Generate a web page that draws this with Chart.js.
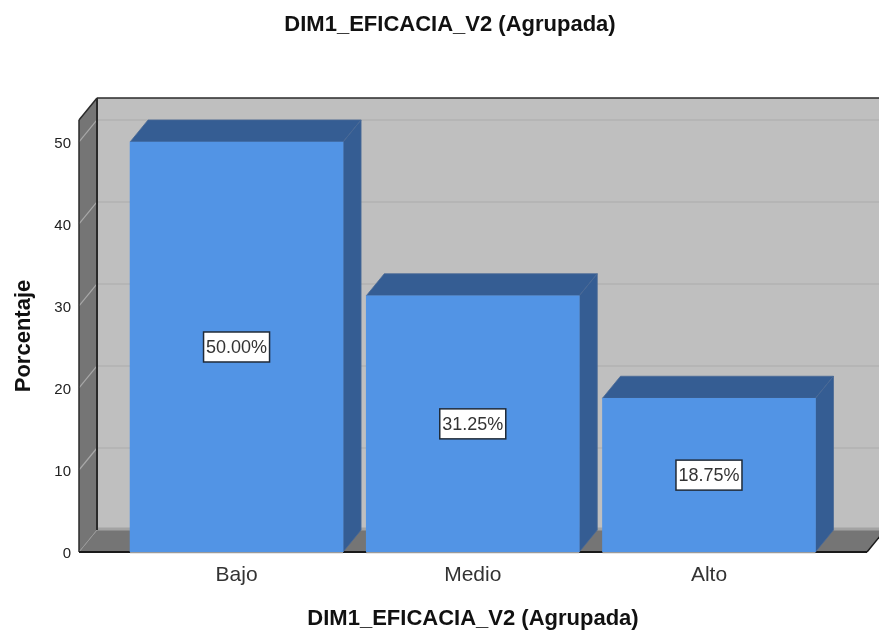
<!DOCTYPE html>
<html>
<head>
<meta charset="utf-8">
<style>
html,body{margin:0;padding:0;background:#fff;overflow:hidden}
canvas{display:block}
</style>
<script src="https://cdn.jsdelivr.net/npm/chart.js@4"></script>
</head>
<body>
<canvas id="c" width="879" height="632" style="width:879px;height:632px"></canvas>
<script>
const categories = ["Bajo", "Medio", "Alto"];
const percentages = [50, 31.25, 18.75];
const yTicks = [0, 10, 20, 30, 40, 50];
const titleText = "DIM1_EFICACIA_V2 (Agrupada)";
const yTitleText = "Porcentaje";

const FONT = '"Liberation Sans", Arial, sans-serif';
const DX = 18, DY = 22;

function poly(ctx, pts, fill, stroke, lw) {
  ctx.beginPath();
  pts.forEach((p, i) => i ? ctx.lineTo(p[0], p[1]) : ctx.moveTo(p[0], p[1]));
  ctx.closePath();
  if (fill) { ctx.fillStyle = fill; ctx.fill(); }
  if (stroke) { ctx.strokeStyle = stroke; ctx.lineWidth = lw || 1; ctx.stroke(); }
}
function line(ctx, x1, y1, x2, y2, color, lw) {
  ctx.beginPath(); ctx.moveTo(x1, y1); ctx.lineTo(x2, y2);
  ctx.strokeStyle = color; ctx.lineWidth = lw || 1; ctx.stroke();
}

const box3d = {
  id: "box3d",
  beforeDatasetsDraw(chart) {
    const { ctx, chartArea: a, scales: { y } } = chart;
    const L = a.left, R = a.right, T = a.top, B = a.bottom;
    ctx.save();
    // back wall
    poly(ctx, [[L + DX, T - DY], [R + DX, T - DY], [R + DX, B - DY], [L + DX, B - DY]], "#bfbfbf");
    // side wall
    poly(ctx, [[L, T], [L + DX, T - DY], [L + DX, B - DY], [L, B]], "#757575");
    // floor
    poly(ctx, [[L, B], [L + DX, B - DY], [R + DX, B - DY], [R, B]], "#757575");
    line(ctx, L + DX, B - DY - 1, R + DX, B - DY - 1, "#a3a3a3", 3);
    // grid lines
    yTicks.slice(1).forEach(v => {
      const py = y.getPixelForValue(v);
      line(ctx, L, py, L + DX, py - DY, "#a8a8a8", 1.2);
      line(ctx, L + DX, py - DY, R + DX, py - DY, "#b2b2b2", 1.5);
    });
    // frame edges
    line(ctx, L + DX, T - DY, R + DX, T - DY, "#2a2a2a", 1.5);
    line(ctx, L, T, L + DX, T - DY, "#2a2a2a", 1.5);
    line(ctx, L, T, L, B, "#2a2a2a", 1.5);
    line(ctx, L + DX, T - DY, L + DX, B - DY, "#2a2a2a", 2);
    line(ctx, L, B, L + DX, B - DY, "#999999", 1);
    line(ctx, L, B, R, B, "#1a1a1a", 2);
    line(ctx, R, B, R + DX, B - DY, "#1a1a1a", 1.5);
    // bar faces
    chart.getDatasetMeta(0).data.forEach(el => {
      const l = el.x - el.width / 2, r = el.x + el.width / 2, t = el.y, b = el.base;
      poly(ctx, [[l, t], [l + DX, t - DY], [r + DX, t - DY], [r, t]], "#355d93", "#4a6a96", 0.8);
      poly(ctx, [[r, t], [r + DX, t - DY], [r + DX, b - DY], [r, b]], "#355d93", "#4a6a96", 0.8);
      line(ctx, l, b + 0.5, r, b + 0.5, "#9a9a9a", 1.5);
    });
    ctx.restore();
  },
  afterDatasetsDraw(chart) {
    const { ctx } = chart;
    ctx.save();
    ctx.font = "18px " + FONT;
    ctx.textAlign = "center";
    ctx.textBaseline = "middle";
    chart.getDatasetMeta(0).data.forEach((el, i) => {
      const cy = (el.y + el.base) / 2;
      const w = 66, h = 30;
      ctx.fillStyle = "#ffffff";
      ctx.fillRect(el.x - w / 2, cy - h / 2, w, h);
      ctx.strokeStyle = "#1f2a38";
      ctx.lineWidth = 1.5;
      ctx.strokeRect(el.x - w / 2, cy - h / 2, w, h);
      ctx.fillStyle = "#333333";
      ctx.fillText(percentages[i].toFixed(2) + "%", el.x, cy + 1);
    });
    ctx.restore();
  }
};

new Chart(document.getElementById("c"), {
  type: "bar",
  data: {
    datasets: [{
      data: categories.map((c, i) => ({ x: i, y: percentages[i] })),
      backgroundColor: "#5294e5",
      borderWidth: 0,
      barThickness: 213
    }]
  },
  options: {
    responsive: false,
    animation: false,
    layout: { padding: { left: 33, right: 12, top: 0, bottom: 0 } },
    plugins: {
      legend: { display: false },
      tooltip: { enabled: false },
      title: {
        display: true,
        text: titleText,
        color: "#111111",
        font: { family: FONT, size: 22, weight: "bold" },
        padding: { top: 12, bottom: 81.6 }
      }
    },
    scales: {
      x: {
        type: "linear",
        offset: false,
        min: -0.667,
        max: 2.669,
        grid: { display: false, drawTicks: false },
        border: { display: false },
        afterBuildTicks: s => { s.ticks = categories.map((c, i) => ({ value: i })); },
        afterFit: s => { s.height = 80; },
        ticks: {
          autoSkip: false, maxRotation: 0, padding: 11,
          color: "#333333",
          font: { family: FONT, size: 21 },
          callback: v => categories[v]
        },
        title: {
          display: true,
          text: titleText,
          color: "#111111",
          font: { family: FONT, size: 22, weight: "bold" },
          padding: { top: 0, bottom: 0 }
        }
      },
      y: {
        min: 0,
        max: 52.68,
        grid: { display: false, drawTicks: false },
        border: { display: false },
        afterBuildTicks: s => { s.ticks = yTicks.map(v => ({ value: v })); },
        afterFit: s => { s.width = 46; },
        ticks: {
          padding: 8,
          labelOffset: 2,
          color: "#222222",
          font: { family: FONT, size: 15 }
        },
        title: {
          display: true,
          text: yTitleText,
          color: "#111111",
          font: { family: FONT, size: 22, weight: "bold" },
          padding: { top: -22, bottom: 0 }
        }
      }
    }
  },
  plugins: [box3d]
});
</script>
</body>
</html>
